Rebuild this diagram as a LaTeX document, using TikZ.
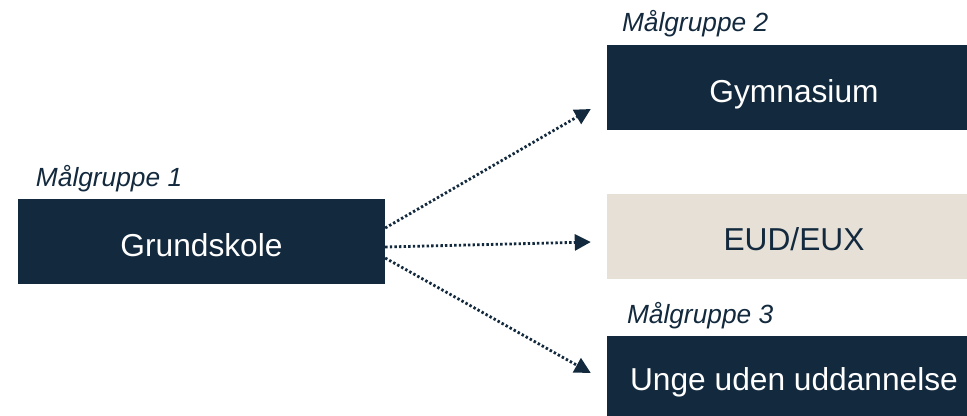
\documentclass[tikz,border=0pt]{standalone}
\usepackage{fontspec}
\setmainfont{Liberation Sans}
\usetikzlibrary{arrows.meta,calc}
\definecolor{navy}{RGB}{19,41,61}
\definecolor{sand}{RGB}{230,224,214}
\begin{document}
\begin{tikzpicture}[x=1bp, y=-1bp,
		box/.style={fill=navy, text=white, inner sep=0pt, minimum width=374bp, minimum height=85bp,
			text height=29bp, text depth=0pt, font=\fontsize{31.7bp}{36bp}\selectfont},
		grp/.style={text=navy, inner sep=0pt, anchor=base west, font=\itshape\fontsize{26.3bp}{30bp}\selectfont},
		flow/.style={draw=navy, line width=2.8bp, dash pattern=on 2.4bp off 2.2bp, -{Triangle[length=16bp, width=16bp]}}]
		\path[use as bounding box, clip] (0,0) rectangle (967,415);

		\node[box, minimum width=367bp] (grund) at (201.5, 241.5) {Grundskole};
		\node[box] (gym) at (794, 87.5) {Gymnasium};
		\node[box, fill=sand, text=navy] (eud) at (794, 236) {EUD/EUX};
		\node[box, minimum height=80bp] (unge) at (794, 376) {Unge uden uddannelse};

		\node[grp] (mg1) at ($(grund.north west)+(18,-12)$) {Målgruppe 1};
		\node[grp] (mg2) at ($(gym.north west)+(15,-13)$) {Målgruppe 2};
		\node[grp] (mg3) at ($(unge.north west)+(20,-12)$) {Målgruppe 3};

		\coordinate (s1) at ($(grund.east)+(0,-13.5)$);
		\coordinate (s2) at ($(grund.east)+(0,5.5)$);
		\coordinate (s3) at ($(grund.east)+(0,16.5)$);
		\coordinate (t1) at ($(gym.west)+(-16,21.5)$);
		\coordinate (t2) at ($(eud.west)+(-16,6)$);
		\coordinate (t3) at ($(unge.west)+(-16,-3)$);

		\path (s1) edge[flow] (t1)
		(s2) edge[flow] (t2)
		(s3) edge[flow] (t3);
	\end{tikzpicture}
\end{document}
